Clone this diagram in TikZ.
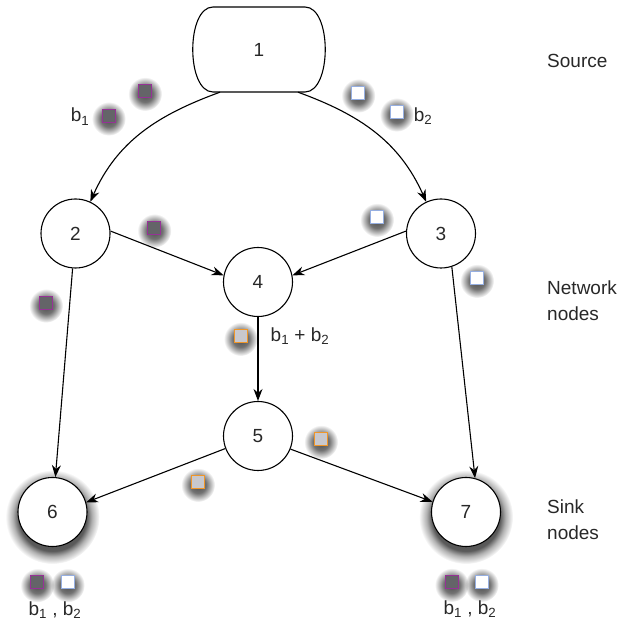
\documentclass[tikz,border=0pt]{standalone}
\usepackage{fontspec}
\setmainfont{Liberation Sans}
\usetikzlibrary{arrows.meta,calc,fadings}
\definecolor{purp}{RGB}{150,50,150}
\definecolor{sqgray}{RGB}{100,100,104}
\definecolor{lblue}{RGB}{150,175,225}
\definecolor{orng}{RGB}{240,150,40}
\definecolor{lgray}{RGB}{200,200,205}
\definecolor{txt}{RGB}{40,40,40}
\pgfdeclareradialshading{glowshade}{\pgfpointorigin}{color(0bp)=(white!70!black); color(12bp)=(white!55!black); color(25bp)=(black); color(50bp)=(black)}
\pgfdeclarefading{glowfade}{\pgfuseshading{glowshade}}
\pgfdeclareradialshading{sinkshade}{\pgfpointorigin}{color(0bp)=(white!70!black); color(18bp)=(white!65!black); color(21bp)=(white!30!black); color(25bp)=(black); color(50bp)=(black)}
\pgfdeclarefading{sinkfade}{\pgfuseshading{sinkshade}}
\begin{document}
\begin{tikzpicture}[x=1pt,y=1pt,
  every node/.style={font=\fontsize{19}{26}\selectfont,text=txt},
  nd/.style={circle,draw,line width=1.1pt,minimum size=69pt,inner sep=0pt,fill=white},
  glow/.style={fill=black,path fading=glowfade},
  sinkglow/.style={fill=black,path fading=sinkfade},
  sq/.style={minimum size=13pt,inner sep=0pt,line width=1.2pt},
  sqd/.style={sq,draw=purp,fill=sqgray},
  sqw/.style={sq,draw=lblue,fill=white},
  sqo/.style={sq,draw=orng,fill=lgray},
  arr/.style={-{Stealth[length=12pt,width=9pt]},line width=1.1pt},
  lbl/.style={anchor=west,inner sep=0pt,align=left}
]
\useasboundingbox (0,0) rectangle (643,623);
% nodes
\node[minimum width=132pt,minimum height=85pt,inner sep=0pt] (n1) at (259,573.5) {1};
\draw[line width=1.1pt,shift={(n1.center)}] (-46,42.5) -- (46,42.5) .. controls (73,42.5) and (73,-42.5) .. (46,-42.5) -- (-46,-42.5) .. controls (-73,-42.5) and (-73,42.5) .. (-46,42.5) -- cycle;
\node[nd] (n2) at (75.5,389.5) {2};
\node[nd] (n3) at (441,389.5) {3};
\node[nd] (n4) at (258,341) {4};
\node[nd] (n5) at (258,187) {5};
\fill[sinkglow] (52.5,106) circle (47pt);
\fill[sinkglow] (466,106) circle (47pt);
\node[nd] (n6) at (52.5,111) {6};
\node[nd] (n7) at (466,111) {7};
\coordinate (o1) at ($(n1.south)+(-39,0)$);
\coordinate (o2) at ($(n1.south)+(39,0)$);
% connectors
\draw[arr] (o1) to[out=200,in=66] (n2.65);
\draw[arr] (o2) to[out=-20,in=114] (n3.115);
\draw[arr] (n2.4) -- (n4.169);
\draw[arr] (n3.176) -- (n4.11);
\draw[arr] (n4) -- (n5);
\draw[arr] (n2) -- (n6);
\draw[arr] (n3.-72) -- (n7.75);
\draw[arr] (n5.-159) -- (n6.16);
\draw[arr] (n5.-22) -- (n7.163);
% squares with soft shadows
\foreach \nm/\px/\py/\st in {s1/145/532/sqd, s2/108.7/507.3/sqd, s3/154.3/395.3/sqd, s4/46/320.3/sqd,
  s5/37.3/40.7/sqd, s6/67.7/40.7/sqw, w1/358.3/530.3/sqw, w2/396.7/511.3/sqw, w3/377/406/sqw,
  w4/477/345/sqw, s7/451.7/41/sqd, w5/481.7/41/sqw, o3/240.7/287/sqo, o4/198/141/sqo, o5/321/184/sqo}{
  \fill[glow] (\px,\py-3) circle (17pt);
  \node[\st] (\nm) at (\px,\py) {};
}
% texts
\node (t1) at (80,506.3) {b\textsubscript{1}};
\node (t2) at (423,507) {b\textsubscript{2}};
\node (t3) at (300,287) {b\textsubscript{1} + b\textsubscript{2}};
\node (t4) at (55,13) {b\textsubscript{1} , b\textsubscript{2}};
\node (t5) at (470,14) {b\textsubscript{1} , b\textsubscript{2}};
\node[lbl] (l1) at (547,562) {Source};
\node[lbl] (l2) at (547,322) {Network\\nodes};
\node[lbl] (l3) at (547,103) {Sink\\nodes};
\end{tikzpicture}
\end{document}
